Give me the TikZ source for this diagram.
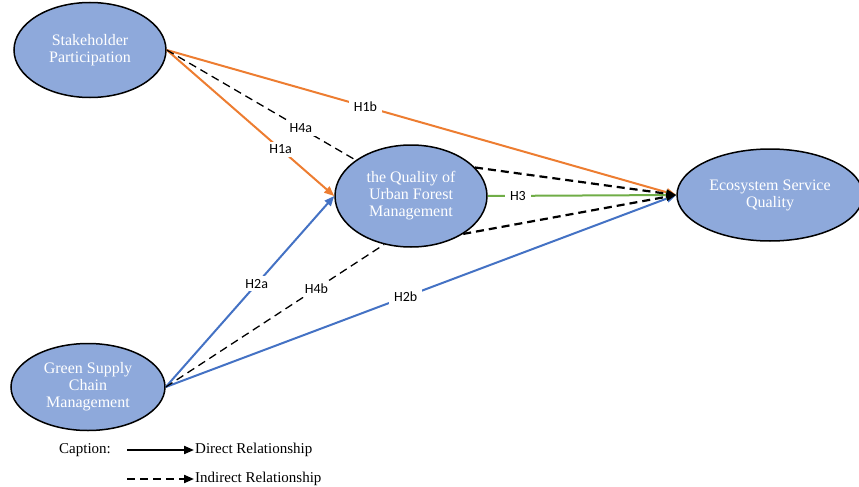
\documentclass[tikz,border=0pt]{standalone}
\usepackage{fontspec}
\setmainfont{Liberation Serif}
\newfontfamily\lblfont{Carlito}
\usetikzlibrary{shapes.geometric,arrows.meta}
\definecolor{fillblue}{RGB}{142,169,219}
\definecolor{hyporange}{RGB}{237,125,49}
\definecolor{hypblue}{RGB}{68,114,196}
\definecolor{hypgreen}{RGB}{112,173,71}
\tikzset{
  construct/.style={ellipse, draw=black, line width=1.5pt, fill=fillblue,
    inner sep=0pt, align=center, text=white,
    font=\fontsize{16}{17}\selectfont},
  hyp/.style={fill=white, text=black, inner xsep=5pt, inner ysep=3pt, font=\lblfont\fontsize{14}{16}\selectfont},
  tip/.style={-{Triangle[length=10pt,width=8pt]}},
  indirect/.style={black, dash pattern=on 8pt off 5pt, line width=1.6pt}
}
\begin{document}
\begin{tikzpicture}[x=1pt, y=-1pt]
  \useasboundingbox (0,0) rectangle (859,487);

  % constructs
  \node [construct, minimum width=152pt, minimum height=95pt] (sp) at (90,50) {Stakeholder\\Participation};
  \node [construct, minimum width=152pt, minimum height=102pt] (qufm) at (411,196) {the Quality of\\Urban Forest\\Management};
  \node [construct, minimum width=186pt, minimum height=92pt] (esq) at (770,195) {Ecosystem Service\\Quality};
  \node [construct, minimum width=154pt, minimum height=87pt] (gscm) at (88,387) {Green Supply\\Chain\\Management};

  % direct paths
  \draw [hyporange, line width=2pt, tip] (sp.east) -- (esq.west) node [hyp, pos=0.39] {H1b};
  \draw [hyporange, line width=2pt, tip] (sp.east) -- (qufm.west) node [hyp, pos=0.68] {H1a};
  \draw [hypblue, line width=2pt, tip] (gscm.east) -- (qufm.west) node [hyp, pos=0.54] {H2a};
  \draw [hypblue, line width=2pt, tip] (gscm.east) -- (esq.west) node [hyp, pos=0.47] {H2b};
  \draw [hypgreen, line width=2pt, tip] (qufm.east) -- (esq.west) node [hyp, pos=0.16] {H3};

  % indirect paths
  \draw [indirect, line width=1.3pt] (sp.east) -- (qufm.147) node [hyp, pos=0.71] {H4a};
  \draw [indirect, line width=1.3pt] (gscm.east) -- (qufm.241) node [hyp, pos=0.69] {H4b};
  \draw [indirect, line width=2.2pt, tip] (qufm.24) -- (esq.west);
  \draw [indirect, line width=2.2pt, tip] (qufm.324) -- (esq.west);

  % caption
  \node (cap) at (85,450) {\fontsize{15}{17}\selectfont Caption:};
  \node [anchor=west, inner sep=1pt] (direct) at (194,450) {\fontsize{15}{17}\selectfont Direct Relationship};
  \node [anchor=west, inner sep=1pt] (indir) at (194,479) {\fontsize{15}{17}\selectfont Indirect Relationship};
  \coordinate (dirA) at (127,450);
  \coordinate (indA) at (127,479);
  \draw [line width=2pt, tip] (dirA) -- (direct.west);
  \draw [indirect, line width=2pt, tip] (indA) -- (indir.west);
\end{tikzpicture}
\end{document}
